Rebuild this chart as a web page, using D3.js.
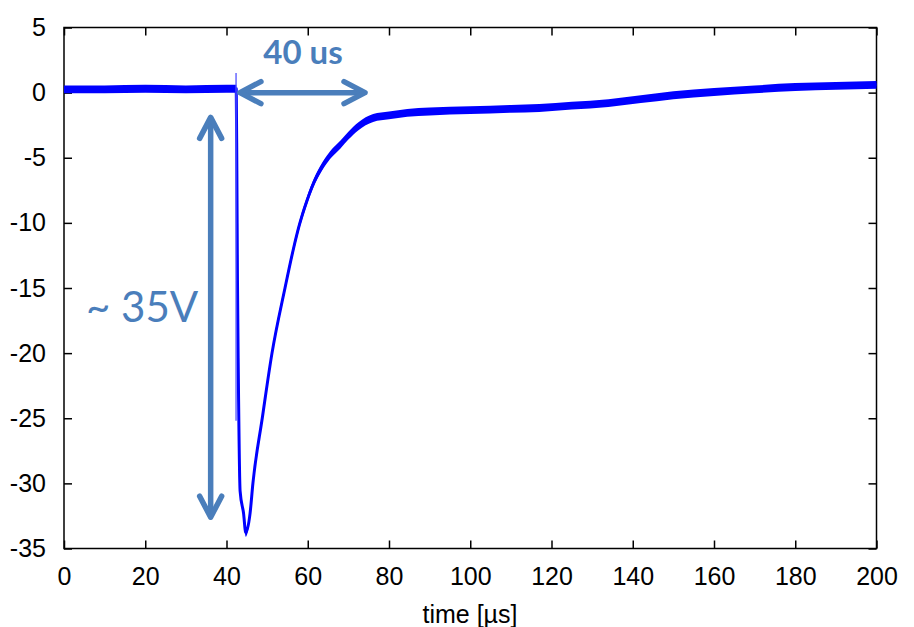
<!DOCTYPE html>
<html>
<head>
<meta charset="utf-8">
<script src="https://cdn.jsdelivr.net/npm/d3@7"></script>
<style>
  html, body { margin: 0; padding: 0; background: #fff; }
  svg { display: block; }
  .tick text { font-family: "Liberation Sans", Arial, sans-serif; font-size: 25px; fill: #000; }
</style>
</head>
<body>
<svg id="chart" width="914" height="627"></svg>
<script>
// ---- data ----
const xTicks = [0, 20, 40, 60, 80, 100, 120, 140, 160, 180, 200];
const yTicks = [5, 0, -5, -10, -15, -20, -25, -30, -35];
const xLabel = "time [µs]";

// main trace (time in µs, voltage in V)
const traceTime = [0, 10, 20, 30, 40, 42.4, 42.55, 42.7, 42.9, 43.35, 44.2, 44.75, 45.8, 46.5, 48.8, 51.2, 54.4, 56.4, 57.9, 59.8, 61.5, 63.5, 65.5, 68, 70, 72.4, 76.1, 80, 84.5, 90, 100, 110, 117, 125, 134, 142, 150, 160, 170, 180, 190, 200];
const traceVolt = [0.25, 0.25, 0.3, 0.25, 0.3, 0.3, -6, -14.4, -21.3, -30.6, -32.3, -33.8, -32.3, -30, -25, -20, -15, -12.1, -10.2, -8.3, -6.9, -5.7, -4.8, -4.0, -3.3, -2.6, -1.95, -1.75, -1.55, -1.45, -1.35, -1.25, -1.18, -1.0, -0.8, -0.5, -0.2, 0.05, 0.25, 0.43, 0.52, 0.6];
// half-width of the noise band around the trace (V)
const traceNoise = [0.3, 0.3, 0.3, 0.3, 0.3, 0.3, 0.3, 0.3, 0.3, 0.3, 0.3, 0.3, 0.3, 0.3, 0.3, 0.3, 0.3, 0.3, 0.3, 0.3, 0.3, 0.3, 0.3, 0.3, 0.3, 0.3, 0.3, 0.3, 0.3, 0.3, 0.3, 0.3, 0.3, 0.3, 0.3, 0.3, 0.3, 0.3, 0.3, 0.3, 0.3, 0.3];

// trigger spike
const spikeTime = [42.35, 42.35];
const spikeVolt = [1.5, -25.2];

// annotations
const ampArrowTime = 36.1;
const ampArrowVolt = [-1.9, -32.6];
const ampLabel = "~ 35V";
const widthArrowVolt = 0.0;
const widthArrowTime = [43.3, 74.1];
const widthLabel = "40 us";

// ---- layout ----
const svg = d3.select("#chart");
const mLeft = 64, mRight = 876.5, mTop = 27.5, mBottom = 548.5;

const x = d3.scaleLinear().domain([0, 200]).range([mLeft, mRight]);
const y = d3.scaleLinear().domain([-35, 5]).range([mBottom, mTop]);
const fmt = d => String(d);

// axes with inward ticks on all four sides
const gB = svg.append("g").attr("transform", `translate(0,${mBottom})`)
  .call(d3.axisBottom(x).tickValues(xTicks).tickFormat(fmt).tickSizeInner(-8).tickSizeOuter(0).tickPadding(19));
const gT = svg.append("g").attr("transform", `translate(0,${mTop})`)
  .call(d3.axisTop(x).tickValues(xTicks).tickSizeInner(-8).tickSizeOuter(0).tickFormat(""));
const gL = svg.append("g").attr("transform", `translate(${mLeft},0)`)
  .call(d3.axisLeft(y).tickValues(yTicks).tickFormat(fmt).tickSizeInner(-8).tickSizeOuter(0).tickPadding(18));
const gR = svg.append("g").attr("transform", `translate(${mRight},0)`)
  .call(d3.axisRight(y).tickValues(yTicks).tickSizeInner(-8).tickSizeOuter(0).tickFormat(""));
[gB, gT, gL, gR].forEach(g => {
  g.attr("font-family", null).attr("font-size", null);
  g.select(".domain").remove();
  g.selectAll(".tick line").attr("stroke", "#000").attr("stroke-width", 1.5);
});

// frame
svg.append("rect")
  .attr("x", mLeft).attr("y", mTop)
  .attr("width", mRight - mLeft).attr("height", mBottom - mTop)
  .attr("fill", "none").attr("stroke", "#000").attr("stroke-width", 1.5);

// x axis title
svg.append("text")
  .attr("x", 470).attr("y", 623)
  .attr("text-anchor", "middle")
  .attr("font-family", "Liberation Sans, Arial, sans-serif")
  .attr("font-size", 25)
  .text(xLabel);

// ---- trace ----
const trace = traceTime.map((t, i) => ({ t, v: traceVolt[i], n: traceNoise[i] }));

svg.append("path")
  .datum(trace)
  .attr("fill", "#0000ff")
  .attr("d", d3.area().curve(d3.curveMonotoneX).x(d => x(d.t)).y0(d => y(d.v - d.n)).y1(d => y(d.v + d.n)));

svg.append("path")
  .datum(trace)
  .attr("fill", "none")
  .attr("stroke", "#0000ff")
  .attr("stroke-width", 3)
  .attr("stroke-linejoin", "round")
  .attr("d", d3.line().curve(d3.curveMonotoneX).x(d => x(d.t)).y(d => y(d.v)));

svg.append("path")
  .datum(spikeTime.map((t, i) => ({ t, v: spikeVolt[i] })))
  .attr("fill", "none")
  .attr("stroke", "#5050ff")
  .attr("stroke-width", 1.3)
  .attr("d", d3.line().x(d => x(d.t)).y(d => y(d.v)));

// ---- annotations ----
const annColor = "#4a7ebb";
function chevron(tipX, tipY, dx, dy) {
  return `M${tipX + dx * 21 - dy * 11},${tipY + dy * 21 + dx * 11} L${tipX},${tipY} L${tipX + dx * 21 + dy * 11},${tipY + dy * 21 - dx * 11}`;
}
const ann = svg.append("g")
  .attr("stroke", annColor).attr("stroke-width", 5.5)
  .attr("stroke-linecap", "round").attr("stroke-linejoin", "round").attr("fill", "none");

const ax = x(ampArrowTime), ay1 = y(ampArrowVolt[0]), ay2 = y(ampArrowVolt[1]);
ann.append("line").attr("x1", ax).attr("x2", ax).attr("y1", ay1 + 2).attr("y2", ay2 - 2);
ann.append("path").attr("d", chevron(ax, ay1, 0, 1));
ann.append("path").attr("d", chevron(ax, ay2, 0, -1));

const hy = y(widthArrowVolt), hx1 = x(widthArrowTime[0]), hx2 = x(widthArrowTime[1]);
ann.append("line").attr("x1", hx1 + 2).attr("x2", hx2 - 2).attr("y1", hy).attr("y2", hy);
ann.append("path").attr("d", chevron(hx1, hy, 1, 0));
ann.append("path").attr("d", chevron(hx2, hy, -1, 0));

svg.append("text")
  .attr("x", 303).attr("y", 64)
  .attr("text-anchor", "middle")
  .attr("font-family", "Lato, 'Open Sans', sans-serif")
  .attr("font-weight", "bold")
  .attr("font-size", 33)
  .attr("fill", annColor)
  .text(widthLabel);

svg.append("text")
  .attr("x", 86).attr("y", 322)
  .attr("font-family", "Lato, 'Open Sans', sans-serif")
  .attr("font-size", 42)
  .attr("fill", annColor)
  .text(ampLabel);
</script>
</body>
</html>
